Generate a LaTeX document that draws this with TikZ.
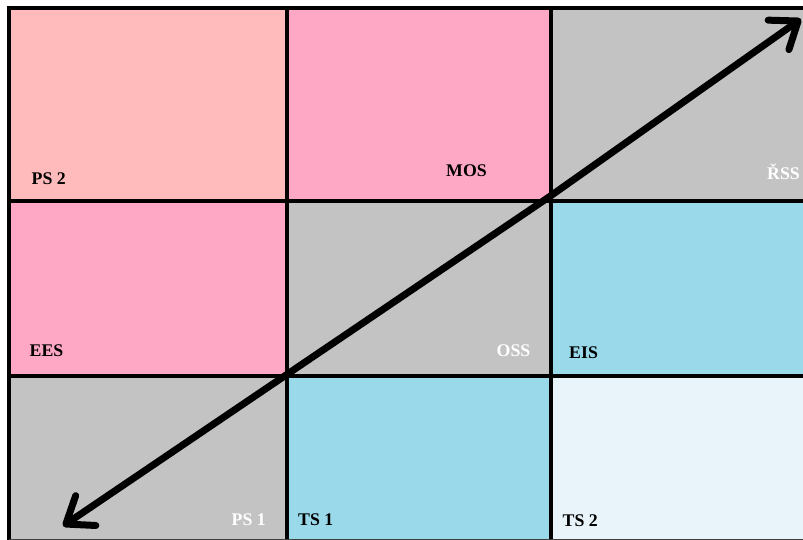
\documentclass[tikz,border=0pt]{standalone}
\usepackage{fontspec}
\setmainfont{Liberation Serif}
\usetikzlibrary{arrows.meta}
\definecolor{salmon}{HTML}{FFBBBB}
\definecolor{rose}{HTML}{FFA8C5}
\definecolor{cellgray}{HTML}{C3C3C3}
\definecolor{turq}{HTML}{99D9EA}
\definecolor{pale}{HTML}{E8F4FA}
\tikzset{
  gridline/.style={line width=4pt, black},
  lbl/.style={anchor=base west, inner sep=0pt, font=\fontsize{17.8}{20}\selectfont\bfseries},
  dark/.style={lbl, text=black},
  light/.style={lbl, text=white},
  bigarrow/.style={line width=7pt, line cap=round, line join=round,
    {Straight Barb[length=24pt, width=36pt, round]}-{Straight Barb[length=24pt, width=36pt, round]}}
}
\begin{document}
\begin{tikzpicture}[x=1pt,y=-1pt]
\useasboundingbox (0,0) rectangle (803,540);
\fill[white] (0,0) rectangle (803,540);
% cells
\fill[salmon]   (8.5,8.5) rectangle (287,201);
\fill[rose]     (287,8.5) rectangle (551,201);
\fill[cellgray] (551,8.5) rectangle (803,201);
\fill[rose]     (8.5,201) rectangle (287,376);
\fill[cellgray] (287,201) rectangle (551,376);
\fill[turq]     (551,201) rectangle (803,376);
\fill[cellgray] (8.5,376) rectangle (287,540);
\fill[turq]     (287,376) rectangle (551,540);
\fill[pale]     (551,376) rectangle (803,540);
% grid lines
\draw[gridline] (6.5,8.5) -- (803,8.5);
\draw[gridline] (8.5,6.5) -- (8.5,540);
\draw[gridline] (8.5,201) -- (803,201);
\draw[gridline] (8.5,376) -- (803,376);
\draw[gridline] (287,8.5) -- (287,540);
\draw[gridline] (551,8.5) -- (551,540);
\draw[line width=1.5pt, black!75] (8.5,539.5) -- (803,539.5);
% labels
\node[dark]  (ps2) at (31.5,185)  {PS 2};
\node[dark]  (mos) at (446,176.5) {MOS};
\node[light] (rss) at (767,180)   {ŘSS};
\node[dark]  (ees) at (29.5,356)  {EES};
\node[light] (oss) at (496.5,356) {OSS};
\node[dark]  (eis) at (569,358.5) {EIS};
\node[light] (ps1) at (231.5,525) {PS 1};
\node[dark]  (ts1) at (298,525)   {TS 1};
\node[dark]  (ts2) at (562.5,526) {TS 2};
% arrow
\coordinate (lo) at (63,526);
\coordinate (mid) at (549,197);
\coordinate (hi) at (801,19);
\draw[bigarrow] (lo) -- (mid) -- (hi);
\end{tikzpicture}
\end{document}
